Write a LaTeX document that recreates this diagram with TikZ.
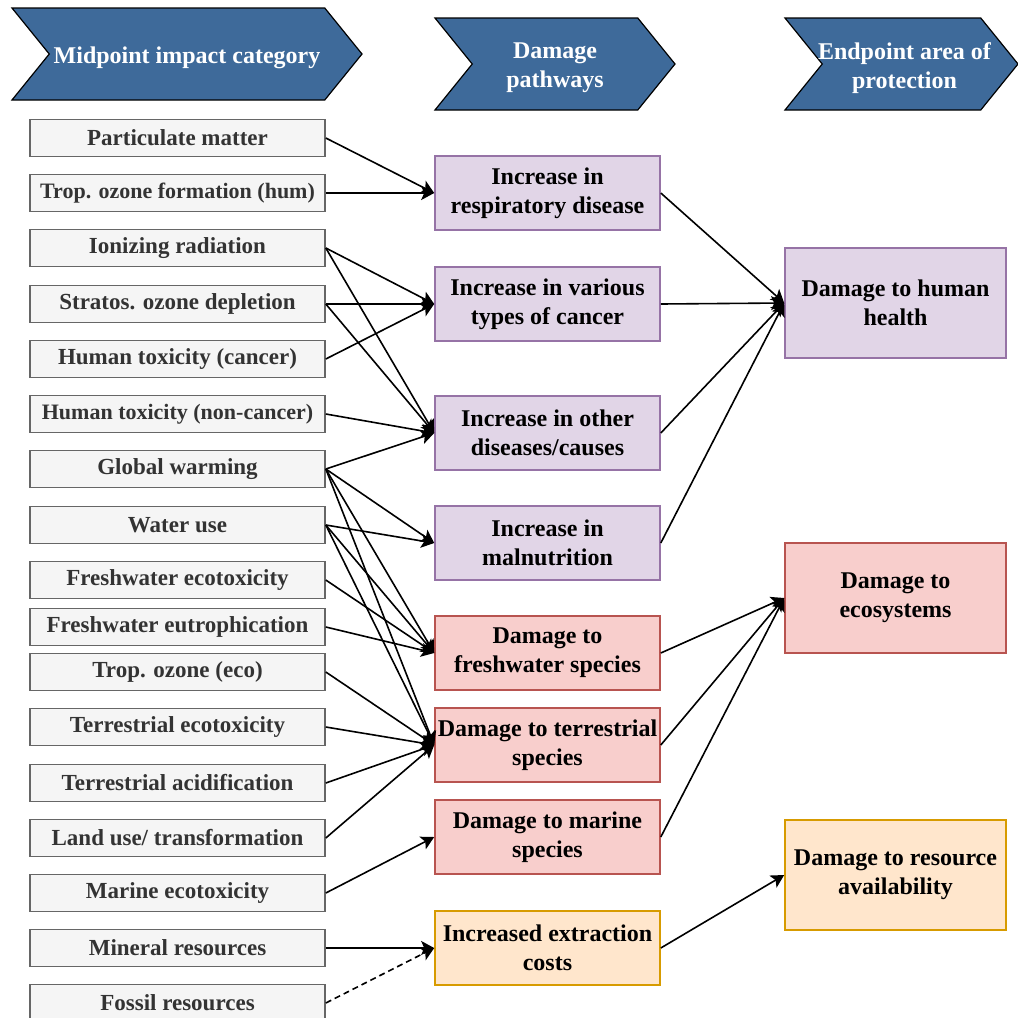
\documentclass[tikz,border=0pt]{standalone}
\usepackage{fontspec}
\setmainfont{Liberation Serif}
\usepackage{tikz}
\usetikzlibrary{positioning, arrows.meta, shapes.symbols}
\definecolor{hdrFill}  {HTML}{3E6A9A}
\definecolor{catFill}  {HTML}{F5F5F5}
\definecolor{catLine}  {HTML}{666666}
\definecolor{catText}  {HTML}{333333}
\definecolor{humFill}  {HTML}{E1D5E7}
\definecolor{humLine}  {HTML}{9673A6}
\definecolor{ecoFill}  {HTML}{F8CECC}
\definecolor{ecoLine}  {HTML}{B85450}
\definecolor{resFill}  {HTML}{FFE6CC}
\definecolor{resLine}  {HTML}{D79B00}
\tikzset{
  boxfont/.style={font=\bfseries\fontsize{12}{14.5}\selectfont},
  catfont/.style={font=\bfseries\fontsize{11.5}{14}\selectfont},
  hdr/.style={shape=signal, signal to=east, signal from=west,
    signal pointer angle=102, fill=hdrFill, draw=black, line width=0.6pt,
    minimum height=46pt, inner sep=0pt},
  hdrtext/.style={text=white, align=center, inner sep=0pt, boxfont},
  catbox/.style={draw=catLine, fill=catFill, text=catText, line width=0.8pt,
    minimum width=147.5pt, minimum height=18.5pt, inner sep=0pt, catfont},
  pathbox/.style={draw=#1Line, fill=#1Fill, line width=0.8pt, align=center,
    minimum width=112.5pt, minimum height=37pt, inner sep=0pt, boxfont},
  endbox/.style={draw=#1Line, fill=#1Fill, line width=0.8pt, align=center,
    minimum width=110.5pt, minimum height=55pt, inner sep=0pt, boxfont},
  link/.style={-{Stealth[length=6.5pt, width=7pt, inset=1.5pt]}, line width=0.8pt},
}
\newcommand{\smallcat}{\fontsize{11}{14}\selectfont}
\begin{document}
\begin{tikzpicture}[x=0.5pt, y=-0.5pt]
  \useasboundingbox (0,0) rectangle (1018,1018);
  % column headers
  \node[hdr, minimum width=175pt] (hMid) at (187,54) {};
  \node[hdr, minimum width=120pt] (hPath) at (555,64) {};
  \node[hdr, minimum width=116.5pt] (hEnd) at (901.5,64) {};
  \node[hdrtext] (hMidTxt) at ([yshift=-2pt]hMid.center) {Midpoint impact category};
  \node[hdrtext] (hPathTxt) at ([yshift=-2pt]hPath.center) {Damage\\pathways};
  \node[hdrtext] (hEndTxt) at ([xshift=1.5pt, yshift=-2pt]hEnd.center) {Endpoint area of\\protection};
  % midpoint categories
  \foreach \n/\y/\t in {pm/138/{Particulate matter}, ozh/193/{\smallcat Trop. ozone formation (hum)},
      ion/248/{Ionizing radiation}, strat/304/{Stratos. ozone depletion},
      htc/359/{Human toxicity (cancer)}, htn/414/{\smallcat Human toxicity (non-cancer)},
      gw/469/{Global warming}, wat/525/{Water use}, fwt/580/{Freshwater ecotoxicity},
      fwe/627/{Freshwater eutrophication}, oze/672/{Trop. ozone (eco)},
      tet/727/{Terrestrial ecotoxicity}, tac/783/{Terrestrial acidification},
      land/838/{Land use/ transformation}, met/893/{Marine ecotoxicity},
      mine/948/{Mineral resources}, foss/1003/{Fossil resources}}{
    \node[catbox] (\n) at (177.5,\y) {\t};
  }
  % damage pathways
  \node[pathbox=hum] (resp) at (547.5,193) {Increase in\\respiratory disease};
  \node[pathbox=hum] (canc) at (547.5,304) {Increase in various\\types of cancer};
  \node[pathbox=hum] (oth)  at (547.5,433) {Increase in other\\diseases/causes};
  \node[pathbox=hum] (maln) at (547.5,543) {Increase in\\malnutrition};
  \node[pathbox=eco] (fws)  at (547.5,653) {Damage to\\freshwater species};
  \node[pathbox=eco] (ters) at (547.5,745) {Damage to terrestrial\\species};
  \node[pathbox=eco] (mars) at (547.5,837) {Damage to marine\\species};
  \node[pathbox=res] (extr) at (547.5,948) {Increased extraction\\costs};
  % endpoints
  \node[endbox=hum] (hh)  at (895.5,303) {Damage to human\\health};
  \node[endbox=eco] (eco) at (895.5,598) {Damage to\\ecosystems};
  \node[endbox=res] (ra)  at (895.5,875) {Damage to resource\\availability};
  % midpoint -> pathway
  \foreach \s/\t in {pm/resp, ozh/resp, ion/canc, ion/oth, strat/canc, strat/oth,
      htc/canc, htn/oth, gw/oth, gw/maln, gw/fws, gw/ters, wat/maln, wat/fws, wat/ters,
      fwt/fws, fwe/fws, oze/ters, tet/ters, tac/ters, land/ters, met/mars, mine/extr}{
    \draw[link] (\s.east) -- (\t.west);
  }
  \draw[link, dash pattern=on 3pt off 2pt] (foss.east) -- (extr.west);
  % pathway -> endpoint
  \foreach \s/\t in {resp/hh, canc/hh, oth/hh, maln/hh, fws/eco, ters/eco, mars/eco, extr/ra}{
    \draw[link] (\s.east) -- (\t.west);
  }
\end{tikzpicture}
\end{document}
